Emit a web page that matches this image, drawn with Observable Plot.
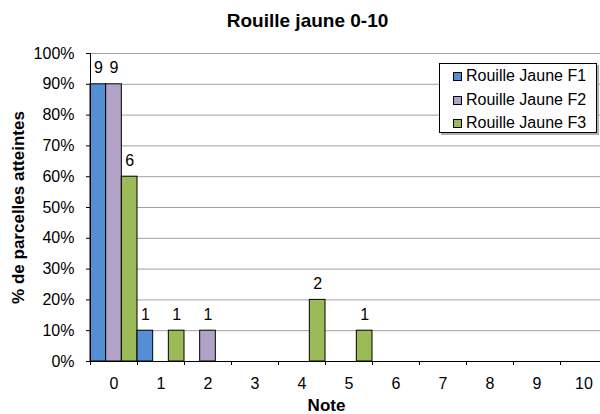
<!DOCTYPE html>
<html>
<head>
<meta charset="utf-8">
<script src="https://cdn.jsdelivr.net/npm/d3@7"></script>
<script src="https://cdn.jsdelivr.net/npm/@observablehq/plot@0.6"></script>
<style>
  body { margin: 0; background: #fff; font-family: "Liberation Sans", Arial, sans-serif; }
  #wrap { position: relative; width: 600px; height: 414px; overflow: hidden; }
  #legend { position: absolute; left: 439px; top: 63px; width: 156px; height: 68px;
            border: 1px solid #000; background: #fff; box-shadow: 2px 2px 0 #b0b0b0;
            font-size: 16px; color: #000; }
  .item { position: absolute; left: 13px; height: 20px; display: flex; align-items: center; white-space: nowrap; }
  .sw { width: 7px; height: 7px; border: 1px solid #000; margin-right: 4px; }
</style>
</head>
<body>
<div id="wrap"></div>
<script>
const notes = ["0","1","2","3","4","5","6","7","8","9","10"];
const seriesNames = ["Rouille Jaune F1","Rouille Jaune F2","Rouille Jaune F3"];
const seriesColors = ["#558ED5","#B3A2C7","#9BBB59"];
// % of plots affected per note
const pctF1 = [0.9, 0.1, 0,   0, 0,   0,   0, 0, 0, 0, 0];
const pctF2 = [0.9, 0,   0.1, 0, 0,   0,   0, 0, 0, 0, 0];
const pctF3 = [0.6, 0.1, 0,   0, 0.2, 0.1, 0, 0, 0, 0, 0];
// number of plots (data labels)
const cntF1 = [9, 1, 0, 0, 0, 0, 0, 0, 0, 0, 0];
const cntF2 = [9, 0, 1, 0, 0, 0, 0, 0, 0, 0, 0];
const cntF3 = [6, 1, 0, 0, 2, 1, 0, 0, 0, 0, 0];
const yTicks = [0, 0.1, 0.2, 0.3, 0.4, 0.5, 0.6, 0.7, 0.8, 0.9, 1];
const title = "Rouille jaune 0-10";
const xTitle = "Note";
const yTitle = "% de parcelles atteintes";

const pcts = [pctF1, pctF2, pctF3];
const cnts = [cntF1, cntF2, cntF3];
const rows = [];
notes.forEach((n, i) => {
  pcts.forEach((arr, s) => {
    rows.push({i, s, note: n, pct: arr[i], count: cnts[s][i]});
  });
});
const shown = rows.filter(d => d.pct > 0);
const bounds = d3.range(notes.length + 1);
const centers = notes.map((n, i) => i + 0.5);
const font = "'Liberation Sans', Arial, sans-serif";

const chart = Plot.plot({
  width: 600,
  height: 414,
  marginLeft: 90,
  marginRight: 0,
  marginTop: 53,
  marginBottom: 53,
  x: {type: "linear", domain: [0, notes.length], range: [90, 607], axis: null},
  y: {domain: [0, 1], axis: null},
  style: {fontFamily: font, fontSize: "16px", background: "white", color: "#000"},
  marks: [
    Plot.ruleY(yTicks.slice(1), {stroke: "#a0a0a0", strokeWidth: 1}),
    Plot.rect(shown, {
      x1: d => d.i + d.s / 3,
      x2: d => d.i + (d.s + 1) / 3,
      y1: 0,
      y2: "pct",
      fill: d => seriesColors[d.s],
      stroke: "#000",
      strokeWidth: 1
    }),
    Plot.text(shown, {
      x: d => d.i + (d.s + 0.5) / 3,
      y: "pct",
      text: d => String(d.count),
      dy: -16,
      fontSize: 16,
      fill: "#000"
    }),
    Plot.axisY({ticks: yTicks, tickFormat: d3.format(".0%"), tickSize: 4, tickPadding: 12, fontSize: 16, label: null, stroke: "#000"}),
    Plot.axisX({ticks: bounds, tickSize: 4, tickFormat: () => "", label: null, stroke: "#000"}),
    Plot.axisX({ticks: centers, tickSize: 0, tickPadding: 16, tickFormat: d => notes[Math.floor(d)], fontSize: 16, label: null}),
    Plot.ruleX([0], {stroke: "#000"}),
    Plot.ruleY([0], {stroke: "#000"}),
    Plot.text([title], {frameAnchor: "top", textAnchor: "middle", lineAnchor: "middle", dx: -38, dy: -33, fontSize: 19, fontWeight: "bold"}),
    Plot.text([xTitle], {frameAnchor: "bottom", textAnchor: "middle", lineAnchor: "middle", dx: -19, dy: 44, fontSize: 17, fontWeight: "bold"}),
    Plot.text([yTitle], {frameAnchor: "left", textAnchor: "middle", lineAnchor: "middle", rotate: -90, dx: -72, fontSize: 17, fontWeight: "bold"})
  ]
});
const wrap = document.getElementById("wrap");
wrap.appendChild(chart);

const legend = document.createElement("div");
legend.id = "legend";
const rowTops = [2, 26, 49];
seriesNames.forEach((name, k) => {
  const it = document.createElement("div");
  it.className = "item";
  it.style.top = rowTops[k] + "px";
  const sw = document.createElement("div");
  sw.className = "sw";
  sw.style.background = seriesColors[k];
  const tx = document.createElement("span");
  tx.textContent = name;
  it.appendChild(sw);
  it.appendChild(tx);
  legend.appendChild(it);
});
wrap.appendChild(legend);
</script>
</body>
</html>
